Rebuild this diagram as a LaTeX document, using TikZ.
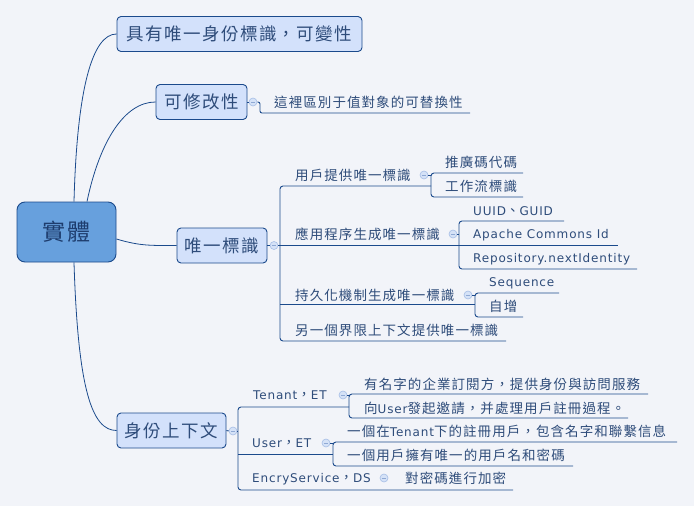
\documentclass[tikz,border=0pt]{standalone}
\usepackage{fontspec}
\newfontfamily\cjk[LetterSpace=8]{Noto Sans CJK TC}
\newfontfamily\lat[LetterSpace=7]{DejaVu Sans}
\definecolor{bg}{HTML}{F2F4F9}
\definecolor{lncol}{HTML}{1B4A8C}
\definecolor{nodefill}{HTML}{D3E1FB}
\definecolor{rootfill}{HTML}{67A0DD}
\definecolor{txt}{HTML}{2E4C7A}
\definecolor{roottxt}{HTML}{1E3D6E}
\definecolor{knobfill}{HTML}{D5E2F7}
\definecolor{knobdraw}{HTML}{A6BEE6}
\definecolor{knobminus}{HTML}{8FA9D4}
\begin{document}
\begin{tikzpicture}[x=1pt,y=-1pt,
  rootbox/.style={draw=lncol,fill=rootfill,rounded corners=8pt,line width=0.9pt,
    minimum width=99pt,minimum height=60pt,inner sep=0pt,text=roottxt,
    font=\cjk\fontsize{23}{23}\selectfont},
  topicbox/.style={draw=lncol,fill=nodefill,rounded corners=4pt,line width=0.9pt,
    minimum height=35pt,inner sep=0pt,text=txt,
    font=\cjk\fontsize{17.5}{17.5}\selectfont},
  leaf/.style={anchor=base west,inner sep=0pt,text=txt,
    font=\cjk\fontsize{13.5}{15}\selectfont},
  knob/.style={circle,draw=knobdraw,fill=knobfill,line width=0.6pt,
    minimum size=8pt,inner sep=0pt,
    path picture={\draw[knobminus,line width=0.7pt]
      ([xshift=-2.2pt]path picture bounding box.center) --
      ([xshift=2.2pt]path picture bounding box.center);}},
  conn/.style={draw=lncol,line width=0.8pt},
  bracket/.style={draw=lncol,line width=0.9pt,rounded corners=3pt},
  uline/.style={draw=lncol,line width=0.9pt}
]
\fill[bg] (0,0) rectangle (694,506);
\useasboundingbox (0,0) rectangle (694,506);

% main topics
\node[rootbox] (root) at (66.5,232) {實體};
\node[topicbox,minimum width=245pt] (n1) at (239.5,34) {具有唯一身份標識，可變性};
\node[topicbox,minimum width=91pt] (n2) at (201.5,102) {可修改性};
\node[topicbox,minimum width=90pt] (n3) at (222,245.5) {唯一標識};
\node[topicbox,minimum width=109pt] (n4) at (171.5,430.5) {身份上下文};

% curves from the root
\draw[conn] ([xshift=7.5pt]root.north) .. controls (77,90) and (92,34) .. (n1.west);
\draw[conn] ([xshift=20.5pt]root.north) .. controls (100,140) and (125,102) .. (n2.west);
\draw[conn] ([yshift=-7pt]root.east) .. controls (140,246) and (150,245.5) .. (n3.west);
\draw[conn] ([xshift=7.5pt]root.south) .. controls (78,390) and (92,430.5) .. (n4.west);

% knobs
\node[knob] (k2) at (253,102) {};
\node[knob] (k3) at (274,245.5) {};
\node[knob] (k4) at (233,431) {};
\node[knob] (ka) at (424,175) {};
\node[knob] (kb) at (453,234) {};
\node[knob] (kc) at (468,295) {};
\node[knob] (kt) at (343,395) {};
\node[knob] (ku) at (326,443) {};
\node[knob] (ke) at (384,478) {};

\draw[uline] (n2.east) -- (k2.west);
\draw[uline] (n3.east) -- (k3.west);
\draw[uline] (n4.east) -- (k4.west);

% 可修改性 branch
\draw[uline,rounded corners=2pt] (k2.east) -- (260,102) -- (260,113) -- (470,113);
\node[leaf] (t2) at (274,107) {這裡區別于值對象的可替換性};

% 唯一標識 branch
\draw[bracket] (431,186) -- (280,186) -- (280,341) -- (506,341);
\draw[uline] (k3.east) -- (459,245.5);
\draw[uline] (280,304) -- (475,304);

\node[leaf] (u1) at (295,180) {用戶提供唯一標識};
\node[leaf] (u2) at (295,239) {應用程序生成唯一標識};
\node[leaf] (u3) at (295,300) {持久化機制生成唯一標識};
\node[leaf] (u4) at (295,335) {另一個界限上下文提供唯一標識};

\draw[bracket] (523,173) -- (431,173) -- (431,197) -- (523,197);
\draw[uline] (ka.east) -- (431,175);
\node[leaf] (u11) at (445,167) {推廣碼代碼};
\node[leaf] (u12) at (445,191) {工作流標識};

\draw[bracket] (564,221) -- (459,221) -- (459,269) -- (637,269);
\draw[uline] (459,245.5) -- (618,245.5);
\draw[uline] (kb.east) -- (459,234);
\node[leaf] (u21) at (473,215.5) {{\lat\fontsize{12}{14}\selectfont UUID}、{\lat\fontsize{12}{14}\selectfont GUID}};
\node[leaf] (u22) at (473,238.5) {\lat\fontsize{12}{14}\selectfont Apache Commons Id};
\node[leaf] (u23) at (473,262.5) {\lat\fontsize{12}{14}\selectfont Repository.nextIdentity};

\draw[bracket] (559,293) -- (475,293) -- (475,317) -- (523,317);
\draw[uline] (kc.east) -- (475,295);
\node[leaf] (u31) at (489,286.5) {\lat\fontsize{12}{14}\selectfont Sequence};
\node[leaf] (u32) at (489,311) {自增};

% 身份上下文 branch
\draw[bracket] (349,407) -- (238,407) -- (238,490) -- (513,490);
\draw[uline] (k4.east) -- (238,431);
\draw[uline] (238,454) -- (333,454);

\node[leaf] (c1) at (253,399.5) {{\lat\fontsize{12}{14}\selectfont Tenant}，{\lat\fontsize{12}{14}\selectfont ET}};
\node[leaf] (c2) at (252,447.5) {{\lat\fontsize{12}{14}\selectfont User}，{\lat\fontsize{12}{14}\selectfont ET}};
\node[leaf] (c3) at (252,482.5) {{\lat\fontsize{12}{14}\selectfont EncryService}，{\lat\fontsize{12}{14}\selectfont DS}};

\draw[bracket] (648,394) -- (349,394) -- (349,418) -- (628,418);
\draw[uline] (kt.east) -- (349,395);
\node[leaf] (c11) at (364,389) {有名字的企業訂閱方，提供身份與訪問服務};
\node[leaf] (c12) at (364,413) {向{\lat\fontsize{12}{14}\selectfont User}發起邀請，并處理用戶註冊過程。};

\draw[bracket] (677,442) -- (333,442) -- (333,466) -- (573,466);
\draw[uline] (ku.east) -- (333,443);
\node[leaf] (c21) at (347,436) {一個在{\lat\fontsize{12}{14}\selectfont Tenant}下的註冊用戶，包含名字和聯繫信息};
\node[leaf] (c22) at (347,460) {一個用戶擁有唯一的用戶名和密碼};

\node[leaf] (c31) at (405,483) {對密碼進行加密};
\end{tikzpicture}
\end{document}
